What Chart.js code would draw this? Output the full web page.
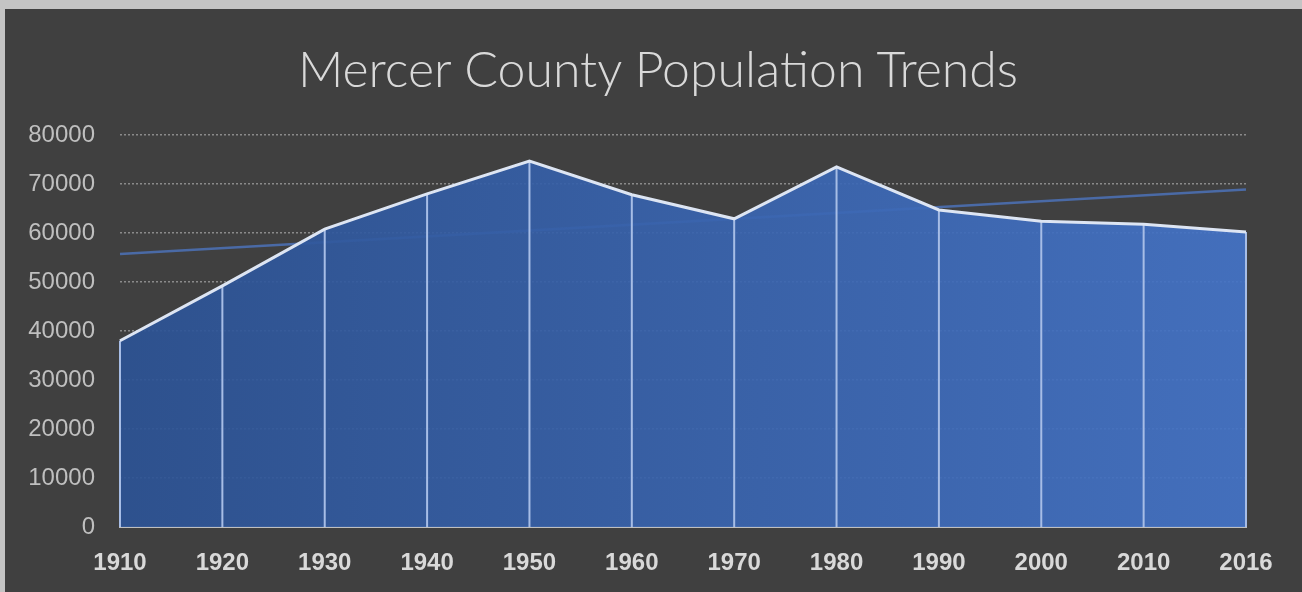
<!DOCTYPE html>
<html>
<head>
<meta charset="utf-8">
<script src="https://cdn.jsdelivr.net/npm/chart.js@4.4.1/dist/chart.umd.min.js"></script>
<style>
  html, body { margin: 0; padding: 0; background: #c4c4c4; }
  #wrap { position: absolute; left: 5px; top: 9px; width: 1297px; height: 583px; background: #404040; }
  #title {
    position: absolute; left: 0; top: 29px; width: 1306px; margin: 0;
    text-align: center; color: #d9d9d9;
    font-family: 'Lato', sans-serif; font-weight: 300; font-size: 50px; line-height: 60px;
  }
  #chart { position: absolute; left: 0; top: 0; }
</style>
</head>
<body>
<div id="wrap">
  <canvas id="chart"></canvas>
  <h1 id="title">Mercer County Population Trends</h1>
</div>
<script>
// data
const years = ['1910', '1920', '1930', '1940', '1950', '1960', '1970', '1980', '1990', '2000', '2010', '2016'];
const population = [38000, 49200, 60800, 68000, 74700, 67800, 62900, 73500, 64700, 62400, 61800, 60200];
// linear trendline ends (first and last year)
const trendStart = 55700;
const trendEnd = 68900;
const trend = years.map((y, i) => i === 0 ? trendStart : (i === years.length - 1 ? trendEnd : null));

const yTicks = [0, 10000, 20000, 30000, 40000, 50000, 60000, 70000, 80000];

// vertical drop lines from each point down to the axis
const dropLines = {
  id: 'dropLines',
  beforeDatasetDraw(chart, args) {
    if (args.index !== 0) return;
    const ctx = chart.ctx;
    const bottom = chart.scales.y.getPixelForValue(0);
    ctx.save();
    ctx.strokeStyle = '#a7bde6';
    ctx.lineWidth = 2;
    args.meta.data.forEach(pt => {
      ctx.beginPath();
      ctx.moveTo(pt.x, pt.y);
      ctx.lineTo(pt.x, bottom);
      ctx.stroke();
    });
    ctx.restore();
  }
};

function areaFill(context) {
  const area = context.chart.chartArea;
  if (!area) return '#3a62a8';
  const g = context.chart.ctx.createLinearGradient(area.left, 0, area.right, 0);
  g.addColorStop(0, 'rgba(45,83,148,0.93)');
  g.addColorStop(1, 'rgba(68,115,198,0.93)');
  return g;
}

new Chart(document.getElementById('chart'), {
  type: 'line',
  data: {
    labels: years,
    datasets: [
      {
        label: 'Population',
        data: population,
        fill: 'origin',
        backgroundColor: areaFill,
        borderColor: '#dde5f3',
        borderWidth: 3,
        pointRadius: 0,
        tension: 0
      },
      {
        label: 'Trend',
        data: trend,
        spanGaps: true,
        fill: false,
        borderColor: '#4a6aa6',
        borderWidth: 2.5,
        pointRadius: 0
      }
    ]
  },
  options: {
    responsive: true,
    maintainAspectRatio: false,
    animation: false,
    layout: { padding: { left: 0, right: 56, top: 126, bottom: 14 } },
    plugins: {
      legend: { display: false },
      tooltip: { enabled: false },
      title: { display: false }
    },
    scales: {
      x: {
        offset: false,
        afterFit(scale) { scale.height = 51; },
        grid: { display: true, color: 'transparent', drawTicks: false },
        border: { display: true, color: '#bfbfbf', width: 2 },
        ticks: {
          color: '#d9d9d9',
          font: { family: 'Liberation Sans', size: 24, weight: 'bold' },
          padding: 22,
          maxRotation: 0,
          autoSkip: false
        }
      },
      y: {
        min: 0,
        max: 80000,
        afterBuildTicks(scale) { scale.ticks = yTicks.map(v => ({ value: v })); },
        afterFit(scale) { scale.width = 115; },
        grid: { color: '#8a8a8a', lineWidth: 1.5, drawTicks: false },
        border: { display: false, dash: [2, 2] },
        ticks: {
          color: '#bfbfbf',
          font: { family: 'Liberation Sans', size: 24 },
          padding: 25,
          callback: v => String(v)
        }
      }
    }
  },
  plugins: [dropLines]
});
</script>
</body>
</html>
